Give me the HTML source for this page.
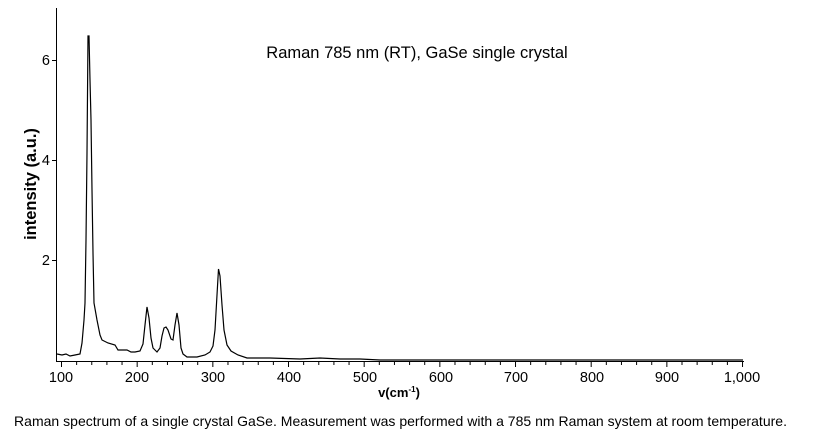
<!DOCTYPE html>
<html><head><meta charset="utf-8"><style>
body{margin:0;background:#fff;width:823px;height:441px;overflow:hidden;font-family:"Liberation Sans",sans-serif}
</style></head><body>
<svg width="823" height="441" xmlns="http://www.w3.org/2000/svg" font-family="Liberation Sans, sans-serif">
<line x1="56.5" y1="8" x2="56.5" y2="362" stroke="#000"/>
<line x1="56" y1="361.5" x2="744" y2="361.5" stroke="#000"/>
<g stroke="#000">
<line x1="52" y1="60.5" x2="57" y2="60.5"/><line x1="52" y1="160.5" x2="57" y2="160.5"/><line x1="52" y1="260.5" x2="57" y2="260.5"/>
</g>
<g stroke="#000" id="xt"></g>
<g font-size="14.5" text-anchor="end"><text x="50" y="65">6</text><text x="50" y="165">4</text><text x="50" y="265">2</text></g>
<g font-size="14.5" text-anchor="middle">
<text x="61" y="382">100</text><text x="137" y="382">200</text><text x="213" y="382">300</text><text x="289" y="382">400</text><text x="365" y="382">500</text><text x="441" y="382">600</text><text x="516" y="382">700</text><text x="592" y="382">800</text><text x="667" y="382">900</text><text x="742" y="382">1,000</text>
</g>
<text x="399" y="397" font-size="13" font-weight="bold" text-anchor="middle">v(cm<tspan font-size="8" dy="-5">-1</tspan><tspan dy="5">)</tspan></text>
<text transform="translate(36,184) rotate(-90)" font-size="16.5" font-weight="bold" text-anchor="middle">intensity (a.u.)</text>
<text x="417" y="58" font-size="16.5" text-anchor="middle">Raman 785 nm (RT), GaSe single crystal</text>
<text x="14" y="426" font-size="14" textLength="773">Raman spectrum of a single crystal GaSe. Measurement was performed with a 785 nm Raman system at room temperature.</text>
<path fill="none" stroke="#000" stroke-width="1.2" d="M57,354 L62,355 L66,354 L70,356 L75,355 L80,354 L82,343 L84,320 L85,303 L86,240 L87,153 L88,36 L89,36 L90,80 L91,120 L92,190 L93,253 L94,303 L97,320 L100,335 L102,340 L108,343 L115,345 L118,350 L122,350 L127,350 L131,352 L135,352 L140,351 L143,344 L145,325 L147,307 L149,318 L151,338 L153,348 L157,352 L160,348 L162,336 L164,328 L166,327 L168,330 L171,339 L173,340 L175,325 L177,313 L179,325 L181,348 L183,354 L187,357 L197,357 L205,355 L210,352 L213,346 L215,330 L217,295 L218.5,269 L220,276 L222,305 L224,330 L227,345 L231,351 L238,355 L247,358 L270,358 L300,359 L320,358 L340,359 L360,359 L380,360 L420,360 L460,360 L520,360 L600,360 L743,360"/>
</svg>
<script>
var g=document.getElementById('xt'),s='';
for(var v=100;v<=1000;v+=20){var x=61+(v-100)*0.7567;var big=v%100==0;s+='<line x1="'+(x+.5)+'" x2="'+(x+.5)+'" y1="362" y2="'+(big?367:365)+'"/>';}
g.innerHTML=s;
</script>
</body></html>
